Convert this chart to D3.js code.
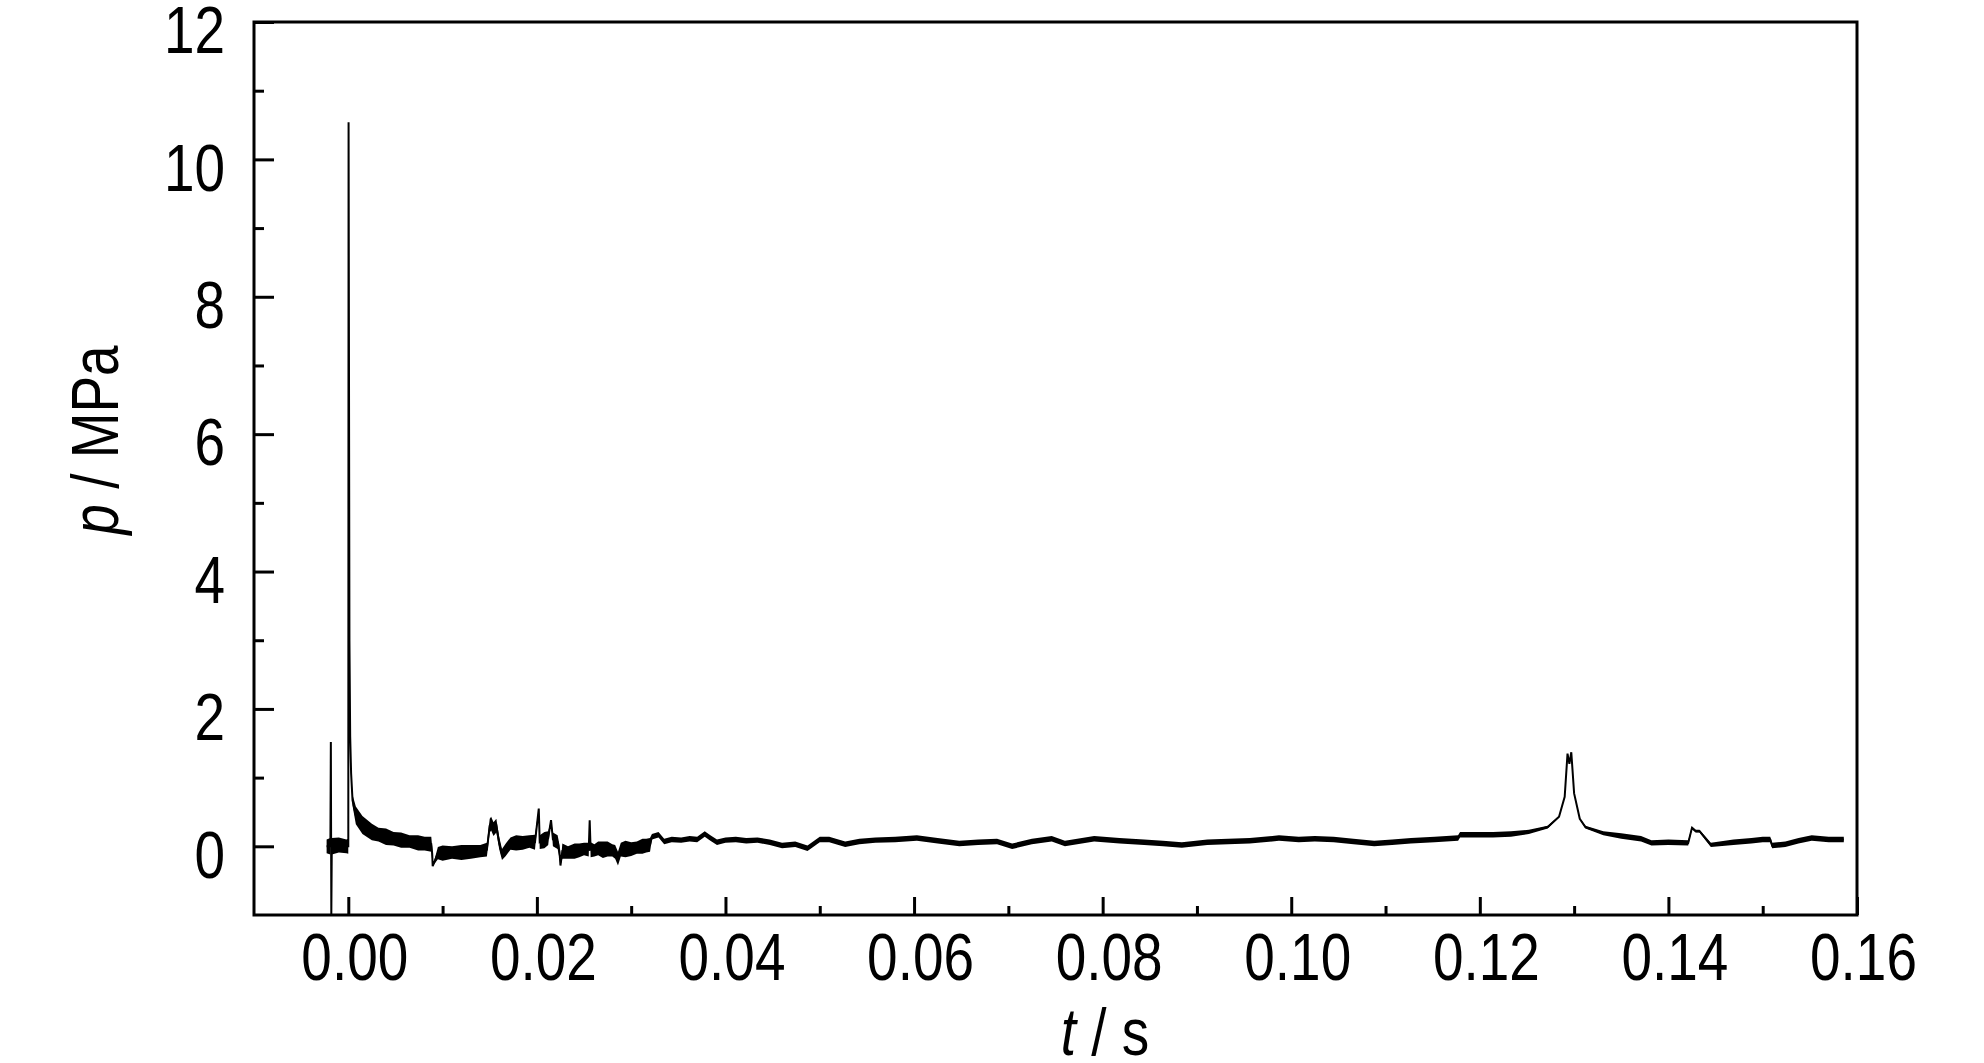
<!DOCTYPE html>
<html>
<head>
<meta charset="utf-8">
<script src="https://cdn.jsdelivr.net/npm/d3@7"></script>
<style>
  body { margin: 0; background: #fff; }
  text { font-family: "Liberation Sans", Arial, sans-serif; }
</style>
</head>
<body>
<div class="box"></div>
<script>
// temps (s), pression (MPa), demi-largeur du bruit (MPa)
const temps = [
  -0.0023, -0.0019, -0.00185, -0.0018, -0.00175, -0.0010, -0.0002, 0.0000,
  0.00003, 0.00012, 0.0002, 0.0003, 0.00045, 0.0008, 0.0015, 0.0025, 0.0032, 0.0040, 0.0048, 0.0056, 0.0065, 0.0074, 0.0081, 0.0088,
  0.0089, 0.00895, 0.0095, 0.0100, 0.0110, 0.0120, 0.0130, 0.0140, 0.0147, 0.0150, 0.01515, 0.0154, 0.0157, 0.0160, 0.0163, 0.0167,
  0.0172, 0.0178, 0.0185, 0.0192, 0.0198, 0.0202, 0.0203, 0.0208, 0.0212, 0.0215, 0.0217, 0.0222, 0.0224, 0.0225, 0.0227,
  0.0233, 0.0240, 0.0245, 0.0250, 0.0255, 0.0256, 0.0257, 0.0261, 0.0265, 0.0270, 0.0275, 0.0280, 0.0283, 0.0286, 0.0289,
  0.0294, 0.0300, 0.0306, 0.0312, 0.0316, 0.0320,
  0.0322, 0.0329, 0.0335, 0.0343, 0.0353, 0.0362, 0.0370, 0.0378, 0.0384, 0.0391, 0.0400, 0.0411, 0.0422, 0.0434,
  0.0447, 0.0460, 0.0474, 0.0487, 0.0500, 0.0510, 0.0527, 0.0542, 0.0559, 0.0580, 0.0603, 0.0625, 0.0648,
  0.0668, 0.0688, 0.0704, 0.0725, 0.0746, 0.0760, 0.0791, 0.0818, 0.0844, 0.0864, 0.0884, 0.0911,
  0.0933, 0.0956, 0.0987, 0.1008, 0.1025, 0.1045, 0.1066, 0.1088, 0.1107, 0.1127, 0.1152, 0.1177, 0.1179,
  0.1197, 0.1214, 0.1233, 0.1252, 0.1272, 0.1284, 0.1290, 0.1293, 0.1295, 0.1297, 0.1300, 0.1306, 0.1312,
  0.1331, 0.1350, 0.1371, 0.1382, 0.1400, 0.1421, 0.1425, 0.1429, 0.1433, 0.1445, 0.1469, 0.1488,
  0.1500, 0.1508, 0.1510, 0.1524, 0.1538, 0.1552, 0.1570, 0.1586
];
const pression = [
  0.00, 0.00, 1.52, -1.00, 0.00, 0.02, 0.00, 0.00,
  10.54, 3.00, 1.60, 1.06, 0.67, 0.45, 0.31, 0.21, 0.17, 0.14, 0.11, 0.09, 0.07, 0.05, 0.04, 0.03,
  -0.11, -0.29, -0.10, -0.10, -0.09, -0.09, -0.08, -0.07, -0.05, 0.30, 0.33, 0.25, 0.30, 0.05, -0.12, -0.05,
  0.04, 0.05, 0.05, 0.07, 0.06, 0.55, 0.06, 0.09, 0.12, 0.38, 0.10, 0.06, -0.08, -0.28, -0.07,
  -0.09, -0.07, -0.06, -0.04, -0.05, 0.38, -0.05, -0.06, -0.03, -0.05, -0.04, -0.06, -0.08, -0.18, -0.05,
  -0.04, -0.04, -0.02, 0.00, 0.01, 0.02,
  0.14, 0.17, 0.07, 0.10, 0.09, 0.11, 0.10, 0.18, 0.12, 0.06, 0.09, 0.10, 0.08, 0.09,
  0.06, 0.01, 0.03, -0.03, 0.10, 0.10, 0.03, 0.07, 0.09, 0.10, 0.12, 0.08, 0.04,
  0.06, 0.07, 0.00, 0.07, 0.11, 0.04, 0.11, 0.08, 0.06, 0.04, 0.02, 0.06,
  0.07, 0.08, 0.12, 0.10, 0.11, 0.10, 0.07, 0.04, 0.06, 0.08, 0.10, 0.12, 0.17,
  0.17, 0.17, 0.18, 0.21, 0.28, 0.43, 0.72, 1.35, 1.20, 1.37, 0.77, 0.40, 0.28,
  0.19, 0.15, 0.11, 0.05, 0.06, 0.05, 0.27, 0.22, 0.22, 0.02, 0.06, 0.08,
  0.10, 0.10, 0.01, 0.03, 0.08, 0.12, 0.10, 0.10
];
const bruit = [
  0.10, 0.12, 0, 0, 0.12, 0.11, 0.10, 0.11,
  0, 0, 0.02, 0.05, 0.08, 0.13, 0.13, 0.12, 0.10, 0.12, 0.10, 0.11, 0.09, 0.11, 0.10, 0.11,
  0.10, 0, 0.09, 0.11, 0.09, 0.11, 0.10, 0.09, 0.10, 0.10, 0.10, 0.10, 0.10, 0.09, 0.08, 0.09,
  0.09, 0.11, 0.10, 0.09, 0.11, 0, 0.10, 0.12, 0.10, 0, 0.10, 0.10, 0.10, 0, 0.11,
  0.09, 0.11, 0.10, 0.09, 0.10, 0, 0.11, 0.09, 0.10, 0.12, 0.11, 0.09, 0.10, 0.10, 0.10,
  0.12, 0.10, 0.09, 0.11, 0.10, 0.10,
  0.04, 0.04, 0.04, 0.04, 0.04, 0.04, 0.04, 0.04, 0.04, 0.04, 0.04, 0.04, 0.04, 0.04,
  0.04, 0.04, 0.04, 0.04, 0.04, 0.04, 0.04, 0.04, 0.04, 0.04, 0.04, 0.04, 0.04,
  0.04, 0.04, 0.04, 0.04, 0.04, 0.04, 0.04, 0.04, 0.04, 0.04, 0.04, 0.04,
  0.04, 0.04, 0.04, 0.04, 0.04, 0.04, 0.04, 0.04, 0.04, 0.04, 0.04, 0.04, 0.04,
  0.04, 0.04, 0.04, 0.03, 0.02, 0.01, 0, 0, 0, 0, 0, 0.01, 0.02,
  0.03, 0.04, 0.04, 0.04, 0.04, 0.04, 0.02, 0.02, 0.02, 0.03, 0.04, 0.04,
  0.04, 0.04, 0.04, 0.04, 0.04, 0.04, 0.04, 0.04
];

// graduations
const ticksX = [0.00, 0.02, 0.04, 0.06, 0.08, 0.10, 0.12, 0.14, 0.16];
const ticksXmin = [0.01, 0.03, 0.05, 0.07, 0.09, 0.11, 0.13, 0.15];
const ticksY = [0, 2, 4, 6, 8, 10, 12];
const ticksYmin = [1, 3, 5, 7, 9, 11];

const dims = {width: 1984, height: 1063, left: 254, right: 1857, top: 22, bottom: 915};
const serre = 0.82; // police étroite simulée

const svg = d3.select('.box')
              .append('svg')
              .attr('width', dims.width)
              .attr('height', dims.height);

const x = d3.scaleLinear().domain([-0.01, 0.16]).range([dims.left, dims.right]);
const y = d3.scaleLinear().domain([-1, 12]).range([dims.bottom, dims.top]);

const donnee = temps.map((t, i) => ({t: t, p: pression[i], h: bruit[i]}));

svg.append('clipPath').attr('id', 'clip')
   .append('rect')
   .attr('x', dims.left).attr('y', dims.top)
   .attr('width', dims.right - dims.left).attr('height', dims.bottom - dims.top);

const trace = svg.append('g').attr('clip-path', 'url(#clip)');

// bande de bruit
const aire = d3.area()
               .x(d => x(d.t))
               .y0(d => y(d.p - d.h))
               .y1(d => y(d.p + d.h));

trace.append('path')
     .datum(donnee)
     .attr('d', aire)
     .attr('fill', '#000');

const ligne = d3.line()
                .x(d => x(d.t))
                .y(d => y(d.p));

trace.append('path')
     .datum(donnee)
     .attr('d', ligne)
     .attr('fill', 'none')
     .attr('stroke', '#000')
     .attr('stroke-width', 2);

// axes
const axeX = svg.append('g')
                .attr('transform', `translate(0, ${dims.bottom})`)
                .call(d3.axisBottom(x).tickValues(ticksX).tickSize(-18).tickPadding(17).tickFormat(d3.format('.2f')));

svg.append('g')
   .attr('transform', `translate(0, ${dims.bottom})`)
   .call(d3.axisBottom(x).tickValues(ticksXmin).tickSize(-9).tickFormat(''));

const axeY = svg.append('g')
                .attr('transform', `translate(${dims.left}, 0)`)
                .call(d3.axisLeft(y).tickValues(ticksY).tickSize(-20).tickPadding(27).tickFormat(d3.format('d')));

svg.append('g')
   .attr('transform', `translate(${dims.left}, 0)`)
   .call(d3.axisLeft(y).tickValues(ticksYmin).tickSize(-10).tickFormat(''));

svg.selectAll('.domain').remove();
svg.selectAll('.tick line').attr('stroke', '#000').attr('stroke-width', 3);
svg.selectAll('.tick text').attr('font-size', 67).attr('fill', '#000')
   .style('font-family', '"Liberation Sans", Arial, sans-serif')
   .attr('transform', `scale(${serre}, 1)`);
axeX.selectAll('.tick text').attr('x', 6 / serre);
axeY.selectAll('.tick text').attr('x', -29 / serre).attr('dy', '0.46em');

// cadre
svg.append('rect')
   .attr('x', dims.left).attr('y', dims.top)
   .attr('width', dims.right - dims.left).attr('height', dims.bottom - dims.top)
   .attr('fill', 'none').attr('stroke', '#000').attr('stroke-width', 3);

// titres
const titreX = svg.append('text')
                  .attr('transform', `translate(1105, 1055) scale(${serre}, 1)`)
                  .attr('text-anchor', 'middle')
                  .attr('font-size', 67);
titreX.append('tspan').attr('font-style', 'italic').text('t');
titreX.append('tspan').text(' / s');

const titreY = svg.append('text')
                  .attr('transform', `translate(118, 440) rotate(-90) scale(${serre}, 1)`)
                  .attr('text-anchor', 'middle')
                  .attr('font-size', 67);
titreY.append('tspan').attr('font-style', 'italic').text('p');
titreY.append('tspan').text(' / MPa');
</script>
</body>
</html>
